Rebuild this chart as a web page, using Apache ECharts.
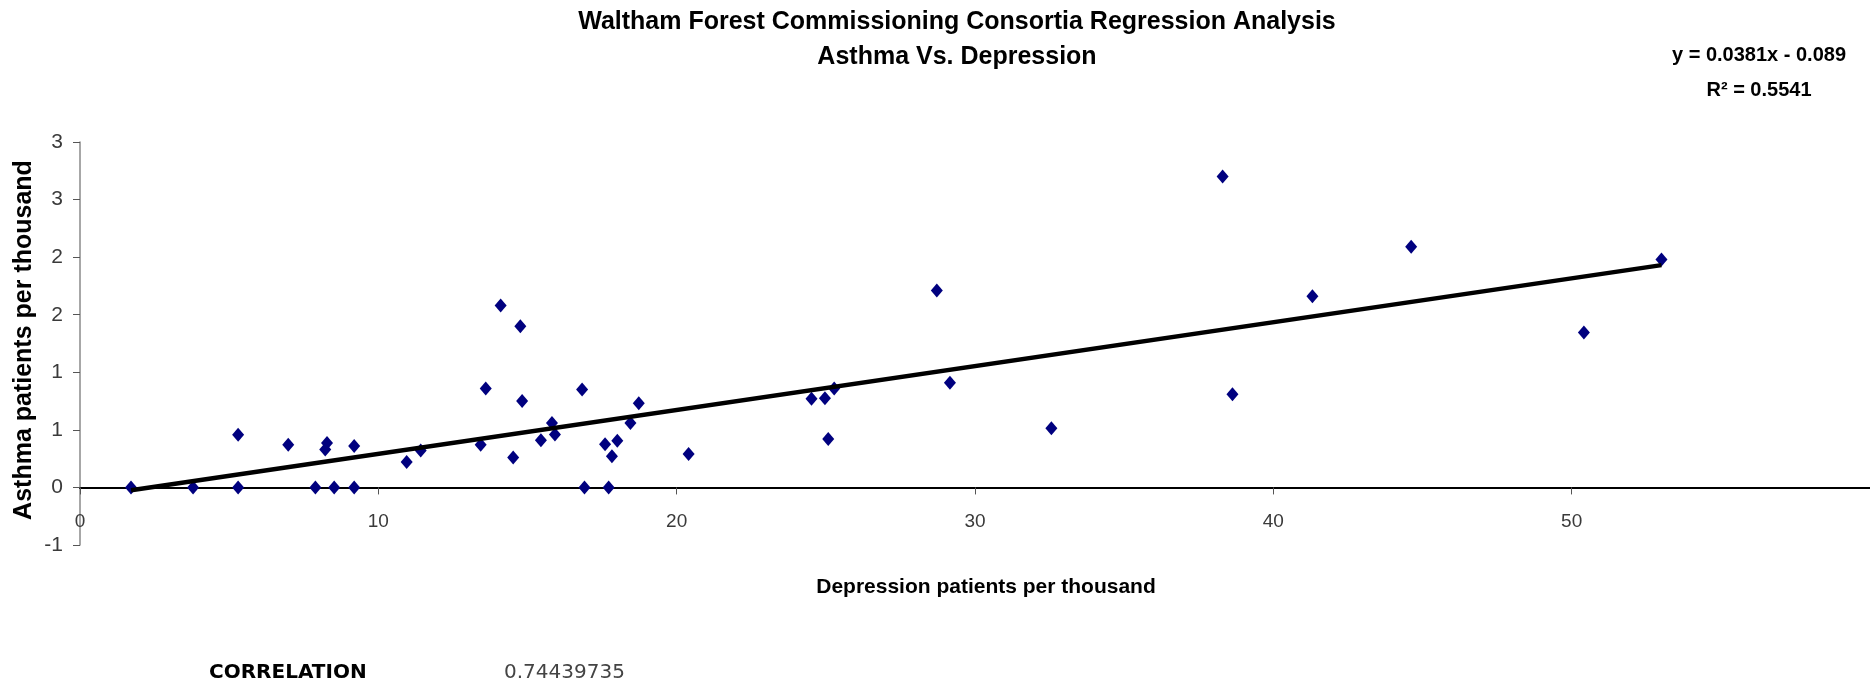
<!DOCTYPE html>
<html>
<head>
<meta charset="utf-8">
<title>Asthma Vs. Depression</title>
<script src="https://cdn.jsdelivr.net/npm/echarts@6/dist/echarts.min.js"></script>
<style>
  html, body { margin: 0; padding: 0; background: #fff; }
  #chart { width: 1870px; height: 683px; }
</style>
</head>
<body>
<div id="chart"></div>
<script>
// Depression patients per thousand (x) for each practice
const depression = [
  1.71, 3.79, 5.30, 5.30, 7.89, 8.52, 9.19, 6.98, 8.28, 8.22,
  9.19, 10.95, 11.42, 13.43, 13.60, 14.10, 14.52, 14.76, 14.82, 15.45,
  15.82, 15.92, 16.83, 16.91, 17.72, 17.60, 17.83, 18.01, 18.45, 18.73,
  20.40, 24.52, 24.97, 25.28, 25.08, 28.72, 29.16, 32.56, 38.30, 38.63,
  41.31, 44.62, 50.41, 53.01
];
// Asthma patients per thousand (y) for the same practices
const asthma = [
  0.00, 0.00, 0.00, 0.457, 0.00, 0.00, 0.00, 0.37, 0.385, 0.33,
  0.36, 0.22, 0.32, 0.37, 0.86, 1.58, 0.26, 1.40, 0.75, 0.41,
  0.56, 0.46, 0.85, 0.00, 0.00, 0.375, 0.27, 0.405, 0.56, 0.73,
  0.29, 0.77, 0.775, 0.86, 0.42, 1.71, 0.91, 0.515, 2.70, 0.81,
  1.66, 2.09, 1.345, 1.98
];

// Linear trendline as stated: y = 0.0381x - 0.089, R^2 = 0.5541
const slope = 0.0381;
const intercept = -0.089;
const rSquared = '0.5541';
const correlation = '0.74439735';

const titleLines = [
  'Waltham Forest Commissioning Consortia Regression Analysis',
  'Asthma Vs. Depression'
];
const xTitle = 'Depression patients per thousand';
const yTitle = 'Asthma patients per thousand';

const points = depression.map((x, i) => [x, asthma[i]]);
const xMin = Math.min(...depression);
const xMax = Math.max(...depression);
const trend = [xMin, xMax].map(x => [x, slope * x + intercept]);

// Excel-style whole-number labels (half rounds away from zero)
const roundLabel = v => {
  const r = Math.sign(v) * Math.round(Math.abs(v));
  return String(r === 0 ? 0 : r);
};

const SANS = '"Liberation Sans", Arial, sans-serif';

function txt(text, x, y, font, opts) {
  return Object.assign({
    type: 'text',
    x: x,
    y: y,
    silent: true,
    style: {
      text: text,
      font: font,
      fill: (opts && opts.fill) || '#000',
      textAlign: (opts && opts.align) || 'center',
      textVerticalAlign: 'middle',
      align: (opts && opts.align) || 'center',
      verticalAlign: 'middle'
    }
  }, opts && opts.rotation ? { rotation: opts.rotation } : {});
}

const chart = echarts.init(document.getElementById('chart'), null, { renderer: 'canvas' });

chart.setOption({
  backgroundColor: '#ffffff',
  animation: false,
  grid: { left: 80, top: 142, right: -22, bottom: 138, containLabel: false },
  xAxis: {
    type: 'value',
    min: 0,
    max: 60,
    interval: 10,
    axisLine: { onZero: true, lineStyle: { color: '#000', width: 2 } },
    axisTick: { show: true, inside: false, length: 7, lineStyle: { color: '#555', width: 1 } },
    axisLabel: {
      margin: -33,
      color: '#3a3a3a',
      fontFamily: SANS,
      fontSize: 19,
      showMaxLabel: false
    },
    splitLine: { show: false }
  },
  yAxis: {
    type: 'value',
    min: -0.5,
    max: 3,
    interval: 0.5,
    axisLine: { show: true, onZero: false, lineStyle: { color: '#8a8a8a', width: 1.5 } },
    axisTick: { show: true, inside: false, length: 7, lineStyle: { color: '#555', width: 1 } },
    axisLabel: {
      margin: 17,
      color: '#3a3a3a',
      fontFamily: SANS,
      fontSize: 21,
      formatter: roundLabel
    },
    splitLine: { show: false }
  },
  series: [
    {
      name: 'Practices',
      type: 'scatter',
      data: points,
      symbol: 'diamond',
      symbolSize: [12, 14],
      itemStyle: { color: '#00007f', opacity: 1 },
      z: 2
    },
    {
      name: 'Linear trend',
      type: 'line',
      data: trend,
      showSymbol: false,
      symbol: 'none',
      lineStyle: { color: '#000', width: 4.5 },
      z: 3
    }
  ],
  graphic: [
    txt(titleLines[0], 957, 22, 'bold 25px ' + SANS),
    txt(titleLines[1], 957, 57, 'bold 25px ' + SANS),
    txt('y = ' + slope + 'x - ' + Math.abs(intercept), 1759, 55, 'bold 20px ' + SANS),
    txt('R\u00B2 = ' + rSquared, 1759, 90, 'bold 20px ' + SANS),
    txt(yTitle, 24, 340, 'bold 25px ' + SANS, { rotation: Math.PI / 2 }),
    txt(xTitle, 986, 587, 'bold 21px ' + SANS),
    txt('CORRELATION', 209, 673, 'bold 20px "DejaVu Sans", sans-serif', { align: 'left' }),
    txt(correlation, 504, 673, '20px "DejaVu Sans", sans-serif', { align: 'left', fill: '#444' })
  ]
});
</script>
</body>
</html>
